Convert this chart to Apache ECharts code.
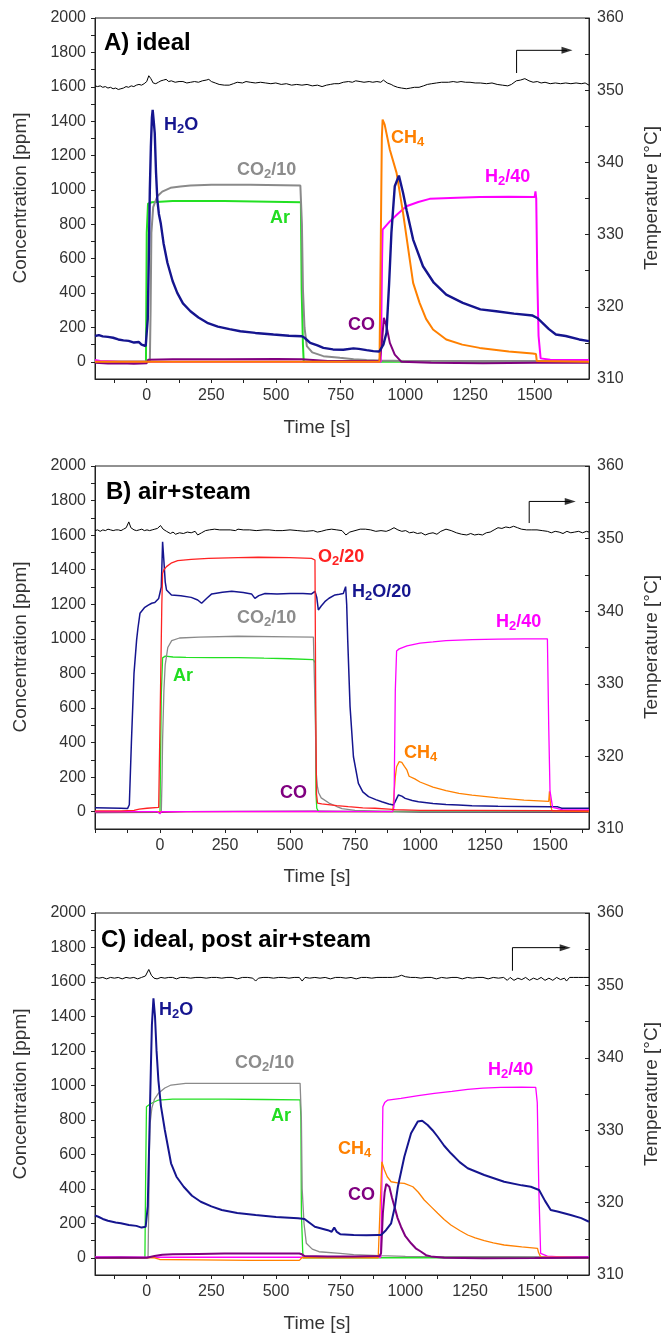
<!DOCTYPE html>
<html><head><meta charset="utf-8">
<script src="https://cdn.jsdelivr.net/npm/echarts@6/dist/echarts.min.js"></script>
<style>html,body{margin:0;padding:0;background:#fff}#c{width:665px;height:1337px}</style>
</head><body><div id="c"></div>
<script>
// ---------- tick / label values ----------
const X_TICKS_A = [-125,0,125,250,375,500,625,750,875,1000,1125,1250,1375,1500,1625];
const X_TICKS_B = [-250,-125,0,125,250,375,500,625,750,875,1000,1125,1250,1375,1500,1625];
const X_LABELS = [0,250,500,750,1000,1250,1500];
const Y_TICKS = [0,100,200,300,400,500,600,700,800,900,1000,1100,1200,1300,1400,1500,1600,1700,1800,1900,2000];
const Y_LABELS = [0,200,400,600,800,1000,1200,1400,1600,1800,2000];
const T_TICKS = [310,315,320,325,330,335,340,345,350,355,360];
const T_LABELS = [310,320,330,340,350,360];

// ---------- Panel A: ideal ----------
const A_H2O = [[-200,150],[-185,155],[-170,148],[-150,145],[-130,140],[-110,130],[-90,125],[-70,122],[-49,112],[-30,115],[-20,100],[-4,92],[0,95],[4,250],[8,600],[12,1000],[16,1250],[20,1420],[23,1465],[27,1400],[31,1330],[36,1100],[41,944],[47,860],[54,808],[65,690],[80,576],[100,470],[118,401],[140,340],[169,294],[200,258],[234,227],[275,205],[320,190],[362,178],[420,168],[490,159],[550,152],[600,149],[610,140],[632,110],[660,95],[683,81],[720,72],[760,70],[799,78],[820,75],[850,68],[876,62],[899,60],[915,100],[927,169],[937,450],[946,750],[959,1021],[975,1083],[991,983],[1005,880],[1030,711],[1068,556],[1110,460],[1158,391],[1222,343],[1290,305],[1351,294],[1420,280],[1492,269],[1510,255],[1530,227],[1555,190],[1582,159],[1620,150],[1672,130],[1710,120]];
const A_CO2 = [[-200,0],[0,0],[12,0],[15,300],[18,750],[25,900],[41,963],[60,990],[92,1012],[130,1020],[169,1025],[250,1030],[400,1030],[594,1025],[598,1030],[600,800],[604,420],[610,200],[619,91],[640,55],[683,33],[747,23],[800,15],[850,10],[900,8],[1000,5],[1710,5]];
const A_AR = [[-200,0],[-3,0],[0,750],[5,920],[20,928],[100,935],[300,935],[596,928],[599,420],[604,100],[607,0],[1710,0]];
const A_CH4 = [[-200,0],[900,0],[905,700],[909,1300],[912,1409],[920,1380],[940,1234],[966,1099],[991,866],[1017,595],[1030,459],[1055,343],[1080,250],[1107,188],[1158,130],[1220,100],[1287,81],[1400,60],[1492,48],[1505,45],[1508,5],[1710,0]];
const A_H2 = [[-200,10],[-180,5],[-100,0],[905,0],[910,600],[912,769],[940,817],[970,860],[1004,905],[1050,930],[1094,948],[1200,955],[1287,959],[1400,960],[1500,959],[1503,992],[1506,950],[1510,500],[1515,150],[1523,20],[1560,12],[1710,10]];
const A_CO = [[-200,-5],[-150,-10],[-100,-8],[-50,-12],[0,-8],[5,12],[100,15],[300,15],[500,16],[600,15],[605,5],[700,5],[900,5],[908,91],[917,256],[927,207],[940,110],[959,42],[985,0],[1100,-5],[1300,-8],[1500,-5],[1710,-5]];
const A_T = [[-200,350.6],[-190,350.5],[-180,350.6],[-170,350.4],[-160,350.5],[-150,350.3],[-140,350.4],[-130,350.2],[-120,350.3],[-110,350.1],[-100,350.2],[-90,350.3],[-80,350.5],[-70,350.4],[-60,350.6],[-50,350.5],[-40,350.7],[-30,350.8],[-20,350.7],[-10,350.9],[0,351.2],[8,352.0],[16,351.6],[25,351.0],[35,350.9],[45,351.1],[55,351.3],[65,351.4],[75,351.5],[85,351.2],[95,351.3],[110,351.1],[125,351.2],[140,351.2],[155,351.0],[170,351.1],[185,351.2],[200,351.1],[215,351.3],[230,351.4],[240,351.5],[250,351.2],[265,351.0],[280,350.8],[300,350.7],[319,350.7],[335,350.9],[350,351.1],[370,351.0],[384,351.2],[400,351.1],[420,351.0],[440,351.1],[460,351.0],[480,350.9],[499,351.0],[520,350.8],[540,350.9],[560,350.7],[580,350.8],[600,350.7],[620,350.8],[640,350.6],[660,350.7],[678,350.5],[695,350.7],[710,350.8],[725,350.9],[743,350.9],[760,351.1],[780,351.2],[795,351.1],[808,351.3],[825,351.2],[840,351.1],[860,351.2],[874,351.1],[890,351.2],[905,351.1],[915,351.4],[930,351.0],[945,350.8],[955,350.6],[970,350.4],[985,350.3],[1004,350.2],[1020,350.3],[1035,350.4],[1053,350.4],[1070,350.6],[1085,350.8],[1102,350.9],[1120,351.0],[1140,351.1],[1167,351.1],[1185,351.2],[1200,351.1],[1215,351.2],[1233,351.1],[1250,351.1],[1270,351.0],[1290,351.0],[1314,350.9],[1335,351.0],[1355,350.8],[1375,350.7],[1396,350.6],[1410,350.8],[1429,351.3],[1445,351.4],[1462,351.6],[1478,351.3],[1494,351.1],[1510,351.2],[1525,351.0],[1540,351.1],[1560,350.9],[1580,351.0],[1600,350.9],[1620,351.0],[1640,350.9],[1660,351.0],[1680,350.9],[1695,351.0],[1710,350.7]];
const A_ARROW = [[1430,1680],[1430,1812],[1625,1812]];

// ---------- Panel B: air+steam ----------
const B_H2O = [[-250,23],[-200,22],[-150,20],[-125,18],[-118,40],[-110,400],[-100,800],[-90,993],[-85,1060],[-77,1148],[-60,1180],[-45,1195],[-32,1206],[-20,1210],[-5,1234],[0,1230],[5,1300],[10,1562],[15,1450],[20,1330],[25,1283],[44,1254],[80,1250],[120,1240],[145,1225],[160,1206],[180,1235],[199,1260],[240,1270],[276,1275],[320,1268],[352,1260],[365,1234],[380,1250],[404,1262],[450,1260],[500,1262],[550,1262],[583,1260],[590,1255],[596,1275],[603,1240],[609,1167],[620,1190],[634,1215],[650,1235],[673,1254],[690,1258],[705,1262],[714,1302],[718,1200],[722,993],[731,608],[744,318],[763,164],[780,115],[802,87],[830,70],[853,58],[880,45],[898,39],[905,60],[917,97],[930,90],[943,77],[970,65],[994,58],[1050,48],[1100,42],[1148,39],[1200,35],[1300,32],[1400,30],[1500,28],[1530,28],[1545,20],[1650,20]];
const B_O2 = [[-250,5],[-150,5],[-100,8],[-80,15],[-50,20],[-5,25],[0,30],[3,801],[7,1200],[10,1379],[15,1400],[25,1418],[45,1440],[68,1452],[120,1460],[186,1466],[300,1470],[378,1472],[500,1470],[583,1466],[596,1456],[599,608],[602,100],[606,50],[622,45],[680,35],[724,29],[780,22],[827,20],[880,15],[905,12],[1000,8],[1200,8],[1500,6],[1650,5]];
const B_CO2 = [[-250,0],[5,0],[8,200],[10,415],[15,700],[20,850],[30,950],[45,990],[75,1005],[150,1010],[300,1015],[500,1012],[590,1010],[596,1000],[598,500],[600,241],[605,150],[610,110],[620,80],[650,50],[680,30],[700,18],[750,8],[850,3],[1650,3]];
const B_AR = [[-250,0],[0,0],[2,300],[5,680],[10,890],[20,900],[50,895],[100,893],[200,892],[300,892],[400,888],[500,885],[590,880],[597,860],[600,100],[603,20],[610,0],[1650,0]];
const B_CH4 = [[-250,0],[895,0],[900,10],[905,200],[910,260],[920,290],[930,285],[940,262],[950,240],[955,232],[958,205],[965,200],[980,190],[1000,172],[1050,142],[1100,122],[1150,106],[1200,96],[1300,80],[1400,67],[1495,60],[1498,118],[1502,40],[1508,5],[1650,0]];
const B_H2 = [[-250,0],[-10,0],[0,-12],[5,0],[895,0],[900,30],[905,700],[910,930],[920,942],[950,960],[1000,975],[1050,982],[1100,990],[1200,995],[1300,998],[1400,1000],[1490,1000],[1495,500],[1500,120],[1510,25],[1550,10],[1650,10]];
const B_CO = [[-250,-5],[0,-3],[100,0],[300,2],[600,3],[605,0],[900,0],[1000,-2],[1650,-3]];
const B_T = [[-250,351.1],[-240,351.2],[-230,351.0],[-220,351.2],[-210,351.1],[-200,351.3],[-190,351.2],[-180,351.1],[-170,351.2],[-160,351.2],[-150,351.1],[-140,351.3],[-130,351.5],[-120,352.3],[-112,351.5],[-100,351.2],[-90,351.1],[-80,351.2],[-70,351.3],[-60,351.1],[-50,351.2],[-40,351.1],[-30,351.2],[-20,351.3],[-10,351.4],[2,351.8],[12,351.3],[25,351.0],[40,350.7],[50,350.9],[60,350.6],[75,350.8],[90,350.7],[105,350.9],[120,350.8],[135,351.0],[145,350.5],[160,350.8],[175,351.1],[190,351.2],[210,351.3],[230,351.2],[250,351.2],[270,351.2],[290,351.1],[300,351.3],[320,351.2],[345,351.2],[370,351.1],[400,351.2],[420,351.2],[445,351.1],[470,351.1],[500,351.2],[530,351.1],[560,351.0],[590,351.1],[605,350.9],[620,351.0],[640,351.2],[660,351.3],[680,351.2],[700,351.1],[715,350.5],[730,350.9],[750,351.1],[770,351.3],[790,351.3],[810,351.2],[830,351.0],[850,351.1],[870,351.0],[885,351.2],[900,351.5],[915,351.2],[930,351.0],[945,351.1],[960,350.8],[975,350.9],[990,350.7],[1005,350.8],[1020,350.5],[1035,350.7],[1050,350.8],[1065,350.6],[1080,351.0],[1100,351.3],[1120,351.1],[1140,350.8],[1160,350.6],[1180,350.5],[1195,350.7],[1210,350.5],[1225,350.6],[1240,350.5],[1255,350.8],[1270,350.9],[1285,351.2],[1300,351.5],[1315,351.4],[1330,351.6],[1345,351.5],[1360,351.7],[1375,351.5],[1390,351.3],[1410,351.2],[1430,351.2],[1450,351.2],[1470,351.1],[1490,351.0],[1505,350.8],[1520,351.0],[1535,350.9],[1550,350.7],[1565,351.0],[1580,350.8],[1595,350.9],[1610,351.0],[1625,350.8],[1640,351.0],[1650,350.9]];
const B_ARROW = [[1420,1670],[1420,1795],[1578,1795]];

// ---------- Panel C: ideal, post air+steam ----------
const C_H2O = [[-200,245],[-187,238],[-170,225],[-150,215],[-120,205],[-100,200],[-69,190],[-40,185],[-20,175],[-4,180],[0,185],[4,300],[10,700],[16,1100],[20,1350],[26,1505],[32,1400],[38,1200],[45,1031],[55,880],[70,741],[94,548],[115,470],[143,412],[175,360],[209,325],[250,298],[290,277],[350,260],[421,248],[500,237],[585,229],[610,225],[650,180],[700,160],[715,151],[725,175],[735,150],[748,137],[800,132],[850,130],[895,132],[906,132],[925,160],[945,200],[960,300],[971,412],[996,586],[1022,722],[1048,790],[1065,795],[1086,770],[1105,740],[1125,702],[1150,650],[1176,606],[1210,555],[1241,519],[1305,480],[1382,441],[1450,420],[1485,412],[1517,393],[1540,330],[1562,277],[1588,268],[1639,248],[1680,230],[1710,209]];
const C_CH4 = [[-200,0],[30,0],[50,-10],[200,-12],[400,-15],[590,-15],[600,0],[895,0],[900,6],[905,400],[909,557],[919,509],[930,470],[945,441],[970,435],[996,432],[1029,412],[1050,380],[1073,335],[1100,295],[1125,258],[1150,222],[1176,190],[1210,158],[1241,132],[1270,115],[1305,99],[1340,86],[1382,74],[1450,63],[1511,55],[1515,30],[1523,5],[1710,0]];
const C_CO = [[-200,0],[-100,2],[0,0],[30,10],[60,18],[100,20],[200,22],[300,24],[400,24],[500,25],[590,25],[600,20],[610,10],[700,8],[800,8],[900,10],[906,26],[913,258],[920,380],[926,428],[932,420],[938,412],[948,350],[958,296],[970,230],[983,180],[1000,125],[1022,84],[1040,55],[1061,35],[1080,15],[1099,8],[1150,0],[1300,-3],[1500,-2],[1710,0]];
const C_H2 = [[-200,5],[0,3],[300,3],[600,3],[905,3],[909,400],[913,876],[920,900],[932,915],[983,925],[1050,940],[1112,954],[1180,965],[1241,977],[1300,984],[1369,989],[1450,990],[1504,989],[1510,900],[1516,400],[1523,26],[1549,10],[1600,5],[1710,5]];
const C_CO2 = [[-200,0],[5,0],[8,300],[10,600],[13,780],[20,870],[30,920],[45,954],[70,985],[94,1002],[150,1012],[300,1012],[450,1012],[593,1012],[598,800],[601,400],[608,200],[617,84],[640,50],[666,35],[748,26],[800,18],[900,12],[1000,8],[1710,5]];
const C_AR = [[-200,0],[-7,0],[-4,500],[-1,876],[13,892],[45,915],[100,920],[300,920],[450,918],[593,916],[596,820],[598,258],[603,40],[605,0],[1710,0]];
const C_T = [[-200,351.1],[-185,351.0],[-170,351.1],[-155,350.9],[-140,351.1],[-125,351.0],[-110,351.1],[-95,350.9],[-80,351.1],[-65,351.0],[-50,351.1],[-35,350.9],[-20,351.1],[-5,351.3],[8,352.2],[18,351.4],[28,351.0],[40,350.9],[55,351.1],[70,351.0],[85,351.1],[100,351.1],[115,350.9],[130,351.1],[150,351.1],[170,351.0],[190,351.1],[210,351.1],[230,351.0],[250,351.1],[270,351.1],[290,351.0],[310,351.1],[330,351.1],[350,350.9],[370,351.1],[390,351.1],[410,351.0],[421,350.6],[432,351.0],[450,351.1],[470,351.1],[490,351.0],[510,351.1],[530,351.1],[550,351.0],[570,351.1],[590,351.1],[601,350.6],[612,351.1],[630,351.0],[650,351.1],[670,351.0],[690,351.1],[710,350.9],[730,351.1],[750,351.1],[770,351.0],[790,351.1],[810,350.9],[830,351.1],[850,351.1],[870,351.0],[890,351.1],[910,351.1],[930,351.1],[950,351.1],[970,351.2],[985,351.4],[1000,351.2],[1020,351.1],[1040,351.1],[1060,351.0],[1080,351.1],[1100,351.1],[1120,350.9],[1140,351.1],[1160,351.0],[1180,351.1],[1200,351.1],[1220,350.9],[1240,351.1],[1260,351.0],[1280,351.1],[1300,351.1],[1320,350.9],[1340,351.1],[1360,351.0],[1380,351.1],[1394,350.7],[1405,351.1],[1420,350.7],[1435,351.0],[1450,350.8],[1465,351.1],[1480,350.7],[1495,351.0],[1510,350.8],[1525,351.1],[1540,350.7],[1555,351.0],[1570,350.7],[1585,351.1],[1600,350.8],[1615,351.0],[1623,350.6],[1635,351.1],[1650,351.1],[1670,351.1],[1690,351.1],[1710,351.1]];
const C_ARROW = [[1414,1665],[1414,1799],[1618,1799]];

// ---------- styling ----------
const FONT = "'Liberation Sans', Arial, Helvetica, sans-serif";
const COL = {h2o:'#15158f', co2:'#8a8a8a', ar:'#22e022', ch4:'#ff8000', h2:'#ff00ff', co:'#800080', o2:'#ff2222', t:'#000000'};
const GRIDS = [
  {left:95, right:76, top:18, height:361},
  {left:95, right:76, top:466, height:363},
  {left:95, right:76, top:913, height:362}
];
const XRANGE = [[-200,1710,X_TICKS_A],[-250,1650,X_TICKS_B],[-200,1710,X_TICKS_A]];
const plain = v => String(v);

const grid = GRIDS.map(g => Object.assign({show:true, borderColor:'#222', borderWidth:1, backgroundColor:'transparent'}, g));
const xAxis = XRANGE.map((r,i) => ({
  gridIndex:i, type:'value', min:r[0], max:r[1],
  axisLine:{show:true, onZero:false, lineStyle:{color:'#222', width:1}},
  axisTick:{show:true, customValues:r[2], length:4, lineStyle:{color:'#222'}},
  axisLabel:{customValues:X_LABELS, formatter:plain, fontSize:16, color:'#333', fontFamily:FONT, margin:9},
  splitLine:{show:false}
}));
const yAxis = [];
for (let i=0;i<3;i++){
  yAxis.push({gridIndex:i, type:'value', min:-100, max:2000, position:'left',
    axisLine:{show:true, onZero:false, lineStyle:{color:'#222'}},
    axisTick:{show:true, customValues:Y_TICKS, length:4, lineStyle:{color:'#222'}},
    axisLabel:{customValues:Y_LABELS, formatter:plain, fontSize:16, color:'#333', fontFamily:FONT, margin:9},
    splitLine:{show:false}});
  yAxis.push({gridIndex:i, type:'value', min:310, max:360, position:'right',
    axisLine:{show:true, onZero:false, lineStyle:{color:'#222'}},
    axisTick:{show:true, inside:true, customValues:T_TICKS, length:4, lineStyle:{color:'#222'}},
    axisLabel:{customValues:T_LABELS, formatter:plain, fontSize:16, color:'#333', fontFamily:FONT, margin:8},
    splitLine:{show:false}});
}

function line(data, color, width, p, right, z){
  return {type:'line', data:data, xAxisIndex:p, yAxisIndex:p*2+(right?1:0), showSymbol:false, symbol:'none',
    lineStyle:{color:color, width:width}, itemStyle:{color:color}, z:z||2, animation:false, silent:true};
}
function arrowPath(coords, p){
  return {type:'line', data:coords, xAxisIndex:p, yAxisIndex:p*2, showSymbol:false, symbol:'none',
    lineStyle:{color:'#000', width:1}, z:5, animation:false, silent:true};
}
function arrowHead(coords, p){
  return {type:'scatter', data:[coords[coords.length-1]], xAxisIndex:p, yAxisIndex:p*2,
    symbol:'triangle', symbolSize:[7,11], symbolRotate:-90, itemStyle:{color:'#000'}, z:6, animation:false, silent:true};
}

const series = [
  // A
  line(A_T, COL.t, 1, 0, true, 2),
  line(A_AR, COL.ar, 2, 0, false, 3),
  line(A_CO2, COL.co2, 2, 0, false, 3),
  line(A_H2, COL.h2, 2, 0, false, 3),
  line(A_CO, COL.co, 2, 0, false, 3),
  line(A_CH4, COL.ch4, 2, 0, false, 4),
  line(A_H2O, COL.h2o, 2.4, 0, false, 4),
  arrowPath(A_ARROW, 0), arrowHead(A_ARROW, 0),
  // B
  line(B_T, COL.t, 1, 1, true, 2),
  line(B_CO, COL.co, 1.3, 1, false, 3),
  line(B_AR, COL.ar, 1.3, 1, false, 3),
  line(B_CO2, COL.co2, 1.3, 1, false, 3),
  line(B_CH4, COL.ch4, 1.3, 1, false, 3),
  line(B_H2O, COL.h2o, 1.5, 1, false, 3),
  line(B_H2, COL.h2, 1.3, 1, false, 4),
  line(B_O2, COL.o2, 1.3, 1, false, 4),
  arrowPath(B_ARROW, 1), arrowHead(B_ARROW, 1),
  // C
  line(C_T, COL.t, 1, 2, true, 2),
  line(C_AR, COL.ar, 1.3, 2, false, 3),
  line(C_CO2, COL.co2, 1.3, 2, false, 3),
  line(C_H2, COL.h2, 1.3, 2, false, 3),
  line(C_CH4, COL.ch4, 1.3, 2, false, 3),
  line(C_CO, COL.co, 2, 2, false, 4),
  line(C_H2O, COL.h2o, 2, 2, false, 4),
  arrowPath(C_ARROW, 2), arrowHead(C_ARROW, 2)
];

// ---------- text ----------
function lbl(x, y, str, color){
  return {type:'text', x:x, y:y, z:100, silent:true, style:{
    text:str, fill:color, align:'left', verticalAlign:'middle',
    rich:{
      m:{fontSize:18, fontWeight:'bold', fontFamily:FONT, fill:color, lineHeight:22},
      s:{fontSize:13, fontWeight:'bold', fontFamily:FONT, fill:color, lineHeight:10, verticalAlign:'bottom'}
    }}};
}
function title(x, y, t){
  return {type:'text', x:x, y:y, z:100, silent:true, style:{text:t, fill:'#000', font:'bold 24px '+FONT, align:'left', verticalAlign:'middle'}};
}
function vname(x, y, t){
  return {type:'text', x:x, y:y, rotation:Math.PI/2, z:100, silent:true, style:{text:t, fill:'#333', font:'19px '+FONT, align:'center', verticalAlign:'middle'}};
}
function hname(x, y, t){
  return {type:'text', x:x, y:y, z:100, silent:true, style:{text:t, fill:'#333', font:'19px '+FONT, align:'center', verticalAlign:'middle'}};
}
const graphic = [
  title(104, 43, 'A) ideal'), title(106, 492, 'B) air+steam'), title(101, 940, 'C) ideal, post air+steam'),
  vname(21, 198, 'Concentration [ppm]'), vname(652, 198, 'Temperature [°C]'), hname(317, 428, 'Time [s]'),
  vname(21, 647, 'Concentration [ppm]'), vname(652, 647, 'Temperature [°C]'), hname(317, 877, 'Time [s]'),
  vname(21, 1094, 'Concentration [ppm]'), vname(652, 1094, 'Temperature [°C]'), hname(317, 1324, 'Time [s]'),
  // A labels
  lbl(164, 125, '{m|H}{s|2}{m|O}', COL.h2o),
  lbl(237, 170, '{m|CO}{s|2}{m|/10}', '#8c8c8c'),
  lbl(270, 218, '{m|Ar}', '#22dd22'),
  lbl(391, 138, '{m|CH}{s|4}', COL.ch4),
  lbl(485, 177, '{m|H}{s|2}{m|/40}', COL.h2),
  lbl(348, 325, '{m|CO}', COL.co),
  // B labels
  lbl(318, 557, '{m|O}{s|2}{m|/20}', COL.o2),
  lbl(352, 592, '{m|H}{s|2}{m|O/20}', COL.h2o),
  lbl(237, 618, '{m|CO}{s|2}{m|/10}', '#8c8c8c'),
  lbl(173, 676, '{m|Ar}', '#22dd22'),
  lbl(404, 753, '{m|CH}{s|4}', COL.ch4),
  lbl(280, 793, '{m|CO}', COL.co),
  lbl(496, 622, '{m|H}{s|2}{m|/40}', COL.h2),
  // C labels
  lbl(159, 1010, '{m|H}{s|2}{m|O}', COL.h2o),
  lbl(235, 1063, '{m|CO}{s|2}{m|/10}', '#8c8c8c'),
  lbl(271, 1116, '{m|Ar}', '#22dd22'),
  lbl(488, 1070, '{m|H}{s|2}{m|/40}', COL.h2),
  lbl(338, 1149, '{m|CH}{s|4}', COL.ch4),
  lbl(348, 1195, '{m|CO}', COL.co)
];

const chart = echarts.init(document.getElementById('c'), null, {renderer:'canvas', width:665, height:1337});
chart.setOption({backgroundColor:'#fff', animation:false, textStyle:{fontFamily:FONT}, grid, xAxis, yAxis, series, graphic});
</script></body></html>
